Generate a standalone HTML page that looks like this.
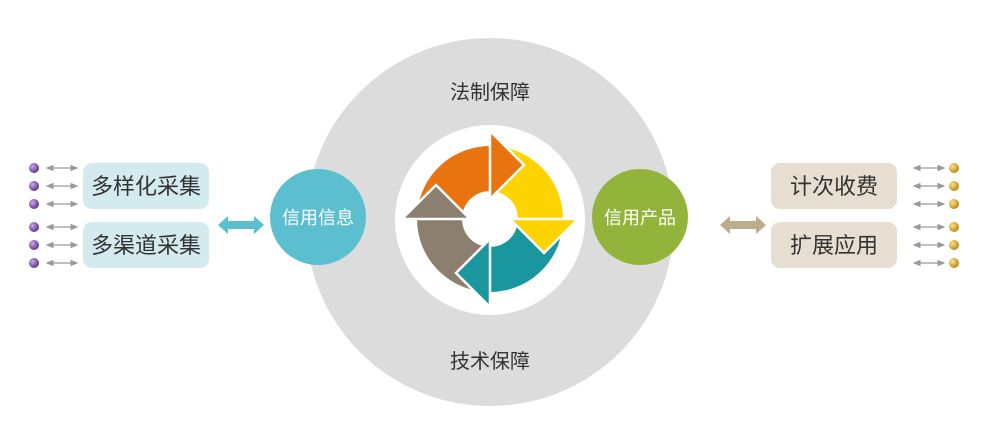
<!DOCTYPE html>
<html><head><meta charset="utf-8"><style>
html,body{margin:0;padding:0;background:#fff;width:1000px;height:445px;overflow:hidden}
text{font-family:"Liberation Sans","Noto Sans CJK SC",sans-serif}
</style></head><body>
<svg width="1000" height="445" viewBox="0 0 1000 445" xmlns="http://www.w3.org/2000/svg">
<defs>
<radialGradient id="pu" cx="0.35" cy="0.35" r="0.7"><stop offset="0" stop-color="#c9a8e8"/><stop offset="1" stop-color="#5a2f8a"/></radialGradient>
<radialGradient id="go" cx="0.35" cy="0.35" r="0.7"><stop offset="0" stop-color="#fbe28a"/><stop offset="1" stop-color="#b8860b"/></radialGradient>
<marker id="ah" markerWidth="6" markerHeight="6" refX="5" refY="3" orient="auto-start-reverse"><path d="M0,0.5 L6,3 L0,5.5 Z" fill="#999"/></marker>
<path id="body" d="M417.3,212.6 A73 73 0 0 1 491,146 L491,191 A28 28 0 0 0 462.1,216.6 Z"/>
<path id="head" d="M490,131 L524,165 L490,199 Z" stroke="#fff" stroke-width="2.5" stroke-linejoin="miter"/>
</defs>
<circle cx="490" cy="222" r="184" fill="#dcdcdc"/>
<circle cx="490" cy="220" r="95" fill="#fff"/>
<use href="#body" fill="#e8730f"/>
<use href="#body" fill="#fdd400" transform="rotate(90 490 219)"/>
<use href="#body" fill="#1a979e" transform="rotate(180 490 219)"/>
<use href="#body" fill="#8d7f6f" transform="rotate(270 490 219)"/>
<use href="#head" fill="#e8730f"/>
<use href="#head" fill="#fdd400" transform="rotate(90 490 219)"/>
<use href="#head" fill="#1a979e" transform="rotate(180 490 219)"/>
<use href="#head" fill="#8d7f6f" transform="rotate(270 490 219)"/>
<text x="490" y="99" font-size="20" fill="#333" text-anchor="middle">法制保障</text>
<text x="490" y="368" font-size="20" fill="#333" text-anchor="middle">技术保障</text>
<circle cx="318" cy="217" r="48" fill="#5cbfcf"/>
<text x="318" y="224" font-size="18" fill="#fff" text-anchor="middle">信用信息</text>
<circle cx="640" cy="217" r="48" fill="#93b43a"/>
<text x="640" y="224" font-size="18" fill="#fff" text-anchor="middle">信用产品</text>
<path d="M218,225 L228,216 L228,221 L254,221 L254,216 L264,225 L254,234 L254,229 L228,229 L228,234 Z" fill="#5cbfcf"/>
<path d="M720,225 L730,216 L730,221 L756,221 L756,216 L766,225 L756,234 L756,229 L730,229 L730,234 Z" fill="#bcae8a"/>
<rect x="83" y="163" width="126" height="46" rx="9" fill="#d3ebef"/>
<rect x="83" y="222" width="126" height="46" rx="9" fill="#d3ebef"/>
<text x="146" y="194" font-size="22" fill="#333" text-anchor="middle">多样化采集</text>
<text x="146" y="253" font-size="22" fill="#333" text-anchor="middle">多渠道采集</text>
<rect x="771" y="163" width="126" height="46" rx="9" fill="#e6dfd1"/>
<rect x="771" y="222" width="126" height="46" rx="9" fill="#e6dfd1"/>
<text x="834" y="194" font-size="22" fill="#333" text-anchor="middle">计次收费</text>
<text x="834" y="253" font-size="22" fill="#333" text-anchor="middle">扩展应用</text>
<g stroke="#999" stroke-width="1.3" marker-start="url(#ah)" marker-end="url(#ah)">
<line x1="47" y1="168" x2="77" y2="168"/><line x1="47" y1="186" x2="77" y2="186"/><line x1="47" y1="204" x2="77" y2="204"/>
<line x1="47" y1="227" x2="77" y2="227"/><line x1="47" y1="245" x2="77" y2="245"/><line x1="47" y1="263" x2="77" y2="263"/>
<line x1="914" y1="168" x2="944" y2="168"/><line x1="914" y1="186" x2="944" y2="186"/><line x1="914" y1="204" x2="944" y2="204"/>
<line x1="914" y1="227" x2="944" y2="227"/><line x1="914" y1="245" x2="944" y2="245"/><line x1="914" y1="263" x2="944" y2="263"/>
</g>
<g fill="url(#pu)">
<circle cx="34" cy="168" r="5"/><circle cx="34" cy="186" r="5"/><circle cx="34" cy="204" r="5"/>
<circle cx="34" cy="227" r="5"/><circle cx="34" cy="245" r="5"/><circle cx="34" cy="263" r="5"/>
</g>
<g fill="url(#go)">
<circle cx="954" cy="168" r="5"/><circle cx="954" cy="186" r="5"/><circle cx="954" cy="204" r="5"/>
<circle cx="954" cy="227" r="5"/><circle cx="954" cy="245" r="5"/><circle cx="954" cy="263" r="5"/>
</g>
</svg>
</body></html>
